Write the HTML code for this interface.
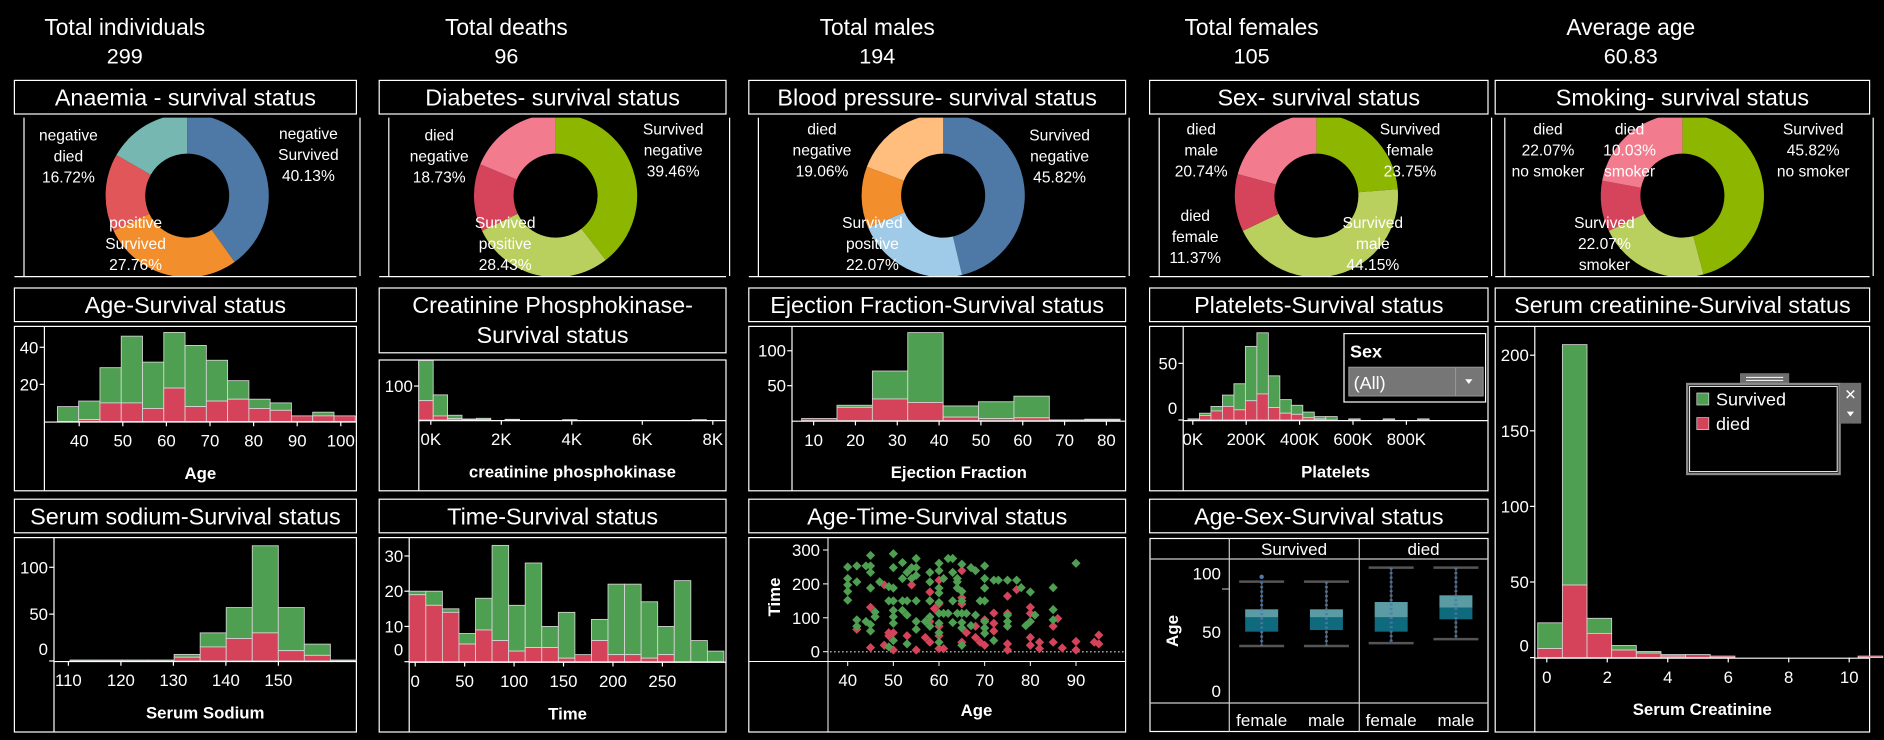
<!DOCTYPE html>
<html><head><meta charset="utf-8"><title>Heart failure dashboard</title>
<style>
html,body{margin:0;padding:0;background:#000;}
svg{display:block;}
text{font-family:"Liberation Sans",sans-serif;fill:#fff;}
</style></head>
<body>
<svg id="dash" xmlns="http://www.w3.org/2000/svg" width="1884" height="740" viewBox="0 0 1570 616.667" preserveAspectRatio="none">
<rect x="0" y="0" width="1570" height="616.667" fill="#000"/>
<defs id="defs"></defs>
</svg>
<script>
// ---------- DATA ----------
const kpiLabels=['Total individuals','Total deaths','Total males','Total females','Average age'];
const kpiValues=['299','96','194','105','60.83'];

const anaemiaValues=[40.13,27.76,15.39,16.72];
const diabetesValues=[39.46,28.43,13.38,18.73];
const bpValues=[45.82,22.07,12.05,19.06];
const sexValues=[23.75,44.15,11.37,20.74];
const smokingValues=[45.82,22.07,10.03,22.07];

const ageTotals=[8,11,29,46,32,48,41,33,22,12,10,3,5,3];
const ageDied=[0,1,10,10,7,18,8,11,12,7,6,3,3,3];
const ageXTicks=[40,50,60,70,80,90,100];
const ageYTicks=[20,40];

const cpkTotals=[175,74,14,3,5,0,2,0,0,0,1,0,0,0,0,0,0,0,0,1];
const cpkDied=[57,12,4,1,1,0,1,0,0,0,1,0,0,0,0,0,0,0,0,0];
const cpkXTicks=[0,2000,4000,6000,8000];
const cpkYTicks=[100];

const efTotals=[3,22,71,126,21,27,35,1,2];
const efDied=[3,19,31,26,5,3,4,0,1];
const efXTicks=[10,20,30,40,50,60,70,80];
const efYTicks=[50,100];

const pltTotals=[1,6,12,22,32,65,77,39,18,13,7,3,3,0,1,0,0,1,0,0,1];
const pltDied=[0,4,8,12,9,17,23,11,6,5,2,1,0,0,0,0,0,0,0,0,0];
const pltXTicks=[0,200000,400000,600000,800000];
const pltYTicks=[0,50];

const scTotals=[23,207,26,8,4,2,2,1,0,0,0,0,0,1];
const scDied=[6,48,16,5,3,1,2,1,0,0,0,0,0,1];
const scXTicks=[0,2,4,6,8,10];
const scYTicks=[0,50,100,150,200];

const naTotals=[1,1,1,1,7,30,57,123,57,18,1];
const naDied=[0,0,0,0,4,15,24,30,11,6,0];
const naXTicks=[110,120,130,140,150];
const naYTicks=[0,50,100];

const timeTotals=[20,20,15,8,18,33,16,28,10,14,2,12,22,22,17,10,23,6,3];
const timeDied=[19,16,14,5,9,6,3,4,4,1,2,6,2,2,1,2,0,0,0];
const timeXTicks=[0,50,100,150,200,250];
const timeYTicks=[0,10,20,30];

const greenAge=[40,42,45,44,45,45,40,40,40,40,42,45,47,50,50,52,55,54,55,53,52,54,55,58,58,60,60,62,63,65,67,68,70,70,70,72,73,75,77,78,80,85,90,64,64,64,65,61,60,60,63,49,50,49,50,52,53,55,58,60,63,65,69,70,50,50,52,53,46,46,44,42,42,45,45,50,50,49,53,55,55,57,58,58,60,61,62,64,65,66,60,63,65,65,67,68,70,70,70,72,75,75,75,79,80,81,85,85,60,65,60];
const greenTime=[250,253,284,253,253,234,216,197,178,152,206,188,206,289,248,263,275,248,248,234,216,216,225,234,206,261,239,275,275,258,248,239,253,216,188,211,211,211,211,189,176,189,261,216,188,206,178,216,188,173,234,192,188,150,150,150,150,150,150,145,150,150,150,150,122,103,122,108,117,103,89,75,94,80,61,84,33,14,23,89,66,89,75,103,113,113,113,113,113,113,84,86,86,70,77,108,89,70,54,33,108,89,75,77,89,108,124,94,28,19,56];
const redAge=[48,54,58,60,65,75,77,58,59,60,65,45,46,42,49,50,49,53,45,48,50,55,57,58,60,60,61,65,66,68,69,70,68,70,72,72,72,75,75,75,80,80,80,80,82,82,85,85,86,87,90,90,94,95,95,58,60,65];
const redTime=[197,197,176,211,239,164,183,150,127,141,159,131,103,66,56,56,47,47,12,19,5,5,42,28,47,9,9,28,56,42,28,19,75,94,114,84,61,23,5,113,131,113,42,19,28,9,28,75,98,11,30,5,28,49,23,89,75,141];
const scatterXTicks=[40,50,60,70,80,90];
const scatterYTicks=[0,100,200,300];

const boxSex=['female','male','female','male'];
const boxStatus=['Survived','died'];
const boxLo=[38.2,38.2,40.7,44.1];
const boxQ1=[50.4,51.8,50.4,60.9];
const boxMed=[62.6,62.6,62.6,70.8];
const boxQ3=[69.4,69.4,75.6,81.3];
const boxHi=[92.9,92.9,104.8,104.8];
const boxOut=[97,null,null,null];
const boxYTicks=[0,50,100];

// ---------- HELPERS ----------
const NS='http://www.w3.org/2000/svg';
const svg=document.getElementById('dash');
const GREEN='#4f9f52', RED='#d4435a', STROKE='#d6d6d6';
function mk(parent,tag,attrs,name,inter){
  const el=document.createElementNS(NS,tag);
  for(const k in attrs) el.setAttribute(k,attrs[k]);
  
  
  parent.appendChild(el);
  return el;
}
function txt(parent,x,y,s,size,name,opts){
  opts=opts||{};
  const a={x:x,y:y,'font-size':size,'text-anchor':opts.anchor||'middle'};
  if(opts.bold) a['font-weight']='bold';
  if(opts.transform) a.transform=opts.transform;
  if(opts.fill) a.fill=opts.fill;
  const t=mk(parent,'text',a,name,false);
  t.textContent=s;
  return t;
}
function lin(d0,d1,r0,r1){return v=>r0+(v-d0)*(r1-r0)/(d1-d0);}
function line(p,x1,y1,x2,y2,name,stroke,w){return mk(p,'line',{x1:x1,y1:y1,x2:x2,y2:y2,stroke:stroke||'#fff','stroke-width':w||1},name,false);}
function rectO(p,x0,y0,x1,y1,name){return mk(p,'rect',{x:x0,y:y0,width:x1-x0,height:y1-y0,fill:'none',stroke:'#fff','stroke-width':1},name,false);}

const cols=[[12,297],[316,605],[624,938],[958,1240],[1246,1558]];

// ---------- KPIs ----------
const kpiX=[104,422,731,1043,1359];
kpiLabels.forEach((l,i)=>{
  const g=mk(svg,'g',{},'kpi-'+l.toLowerCase().replace(/ /g,'-'),false);
  txt(g,kpiX[i],29,l,19,'kpi-label');
  txt(g,kpiX[i],53,kpiValues[i],18,'kpi-value');
});

// ---------- TITLE BOXES ----------
function titleBox(x0,x1,y0,y1,lines,name){
  const g=mk(svg,'g',{},name,false);
  rectO(g,x0,y0,x1,y1,'title-frame');
  const cx=(x0+x1)/2;
  if(lines.length===1) txt(g,cx,y0+21,lines[0],19.5,'title-text');
  else {txt(g,cx,y0+21,lines[0],19.5,'title-text');txt(g,cx,y0+46,lines[1],19.5,'title-text');}
}
titleBox(cols[0][0],cols[0][1],67,95,['Anaemia - survival status'],'anaemia-title');
titleBox(cols[1][0],cols[1][1],67,95,['Diabetes- survival status'],'diabetes-title');
titleBox(cols[2][0],cols[2][1],67,95,['Blood pressure- survival status'],'blood-pressure-title');
titleBox(cols[3][0],cols[3][1],67,95,['Sex- survival status'],'sex-title');
titleBox(cols[4][0],cols[4][1],67,95,['Smoking- survival status'],'smoking-title');
titleBox(cols[0][0],cols[0][1],240,268,['Age-Survival status'],'age-title');
titleBox(cols[1][0],cols[1][1],240,294,['Creatinine Phosphokinase-','Survival status'],'cpk-title');
titleBox(cols[2][0],cols[2][1],240,268,['Ejection Fraction-Survival status'],'ef-title');
titleBox(cols[3][0],cols[3][1],240,268,['Platelets-Survival status'],'platelets-title');
titleBox(cols[4][0],cols[4][1],240,268,['Serum creatinine-Survival status'],'serum-creatinine-title');
titleBox(cols[0][0],cols[0][1],416,444,['Serum sodium-Survival status'],'serum-sodium-title');
titleBox(cols[1][0],cols[1][1],416,444,['Time-Survival status'],'time-title');
titleBox(cols[2][0],cols[2][1],416,444,['Age-Time-Survival status'],'age-time-title');
titleBox(cols[3][0],cols[3][1],416,444,['Age-Sex-Survival status'],'age-sex-title');

// ---------- DONUTS ----------
const defs=document.getElementById('defs');
function arcPath(cx,cy,r0,r1,a0,a1){
  const p=(r,a)=>[cx+r*Math.sin(a),cy-r*Math.cos(a)];
  const large=(a1-a0)>Math.PI?1:0;
  const [x1,y1]=p(r1,a0),[x2,y2]=p(r1,a1),[x3,y3]=p(r0,a1),[x4,y4]=p(r0,a0);
  return `M${x1},${y1}A${r1},${r1} 0 ${large} 1 ${x2},${y2}L${x3},${y3}A${r0},${r0} 0 ${large} 0 ${x4},${y4}Z`;
}
function donut(ci,cx,values,colors,labels,name){
  const [x0,x1]=cols[ci];
  const g=mk(svg,'g',{},name,false);
  const cp=mk(defs,'clipPath',{id:'clip'+ci},'clip',false);
  mk(cp,'rect',{x:x0,y:98,width:x1-x0,height:132},'clip-rect',false);
  line(g,x0+8,98,x0+8,230,'panel-left-border');
  line(g,x1+3,98,x1+3,230,'panel-right-border');
  line(g,x0,230.5,x1,230.5,'panel-bottom-border');
  const dg=mk(g,'g',{'clip-path':'url(#clip'+ci+')'},'donut',false);
  const tot=values.reduce((a,b)=>a+b,0);
  let a=0;
  values.forEach((v,i)=>{
    const a1=a+v/tot*2*Math.PI;
    mk(dg,'path',{d:arcPath(cx,163,35,68,a,a1),fill:colors[i]},'donut-slice',true);
    a=a1;
  });
  labels.forEach(l=>{
    l.t.forEach((s,j)=>txt(g,l.x,l.y+j*17.5,s,13,'slice-label',{anchor:l.a||'middle'}));
  });
}
donut(0,156,anaemiaValues,['#4e79a7','#f28e2b','#e15759','#76b7b2'],[
  {x:257,y:116,t:['negative','Survived','40.13%']},
  {x:57,y:117,t:['negative','died','16.72%']},
  {x:113,y:190,t:['positive','Survived','27.76%']}],'anaemia-donut');
donut(1,463,diabetesValues,['#8db600','#b9cf5e','#d5445b','#f27b8e'],[
  {x:561,y:112,t:['Survived','negative','39.46%']},
  {x:366,y:117,t:['died','negative','18.73%']},
  {x:421,y:190,t:['Survived','positive','28.43%']}],'diabetes-donut');
donut(2,786,bpValues,['#4e79a7','#a0cbe8','#f28e2b','#ffbe7d'],[
  {x:685,y:112,t:['died','negative','19.06%']},
  {x:883,y:117,t:['Survived','negative','45.82%']},
  {x:727,y:190,t:['Survived','positive','22.07%']}],'blood-pressure-donut');
donut(3,1097,sexValues,['#8db600','#b9cf5e','#d5445b','#f27b8e'],[
  {x:1001,y:112,t:['died','male','20.74%']},
  {x:1175,y:112,t:['Survived','female','23.75%']},
  {x:996,y:184,t:['died','female','11.37%']},
  {x:1144,y:190,t:['Survived','male','44.15%']}],'sex-donut');
donut(4,1402,smokingValues,['#8db600','#b9cf5e','#d5445b','#f27b8e'],[
  {x:1290,y:112,t:['died','22.07%','no smoker']},
  {x:1358,y:112,t:['died','10.03%','smoker']},
  {x:1511,y:112,t:['Survived','45.82%','no smoker']},
  {x:1337,y:190,t:['Survived','22.07%','smoker']}],'smoking-donut');

// ---------- HISTOGRAMS ----------
function histChart(o){
  const g=mk(svg,'g',{},o.name,false);
  rectO(g,o.x0,o.y0,o.x1,o.y1,'chart-frame');
  line(g,o.ax,o.y0,o.ax,o.y1,'y-axis-line');
  const xs=o.xs, ys=o.ys, base=ys(0);
  const bars=mk(g,'g',{},'bars',false);
  o.totals.forEach((t,i)=>{
    if(t<=0) return;
    const xl=xs(o.start+i*o.width), xr=xs(o.start+(i+1)*o.width);
    const d=o.died[i];
    if(t>d) mk(bars,'rect',{x:xl,y:ys(t),width:xr-xl,height:ys(d)-ys(t),fill:GREEN,stroke:STROKE,'stroke-width':0.7},'bar-survived-'+i,true);
    if(d>0) mk(bars,'rect',{x:xl,y:ys(d),width:xr-xl,height:base-ys(d),fill:RED,stroke:STROKE,'stroke-width':0.7},'bar-died-'+i,true);
  });
  line(g,o.ax,base+0.5,o.x1,base+0.5,'x-axis-line');
  const xg=mk(g,'g',{},'x-axis',false);
  o.xticks.forEach(v=>{
    const x=xs(v);
    line(xg,x,base,x,base+4,'x-tick');
    txt(xg,x,base+21,o.fmt?o.fmt(v):String(v),14,'x-tick-label');
  });
  txt(xg,(o.ax+o.x1)/2,base+48,o.title,14,'x-axis-title',{bold:true});
  const yg=mk(g,'g',{},'y-axis',false);
  o.yticks.forEach(v=>{
    const y=ys(v);
    line(yg,o.ax-4,y,o.ax,y,'y-tick');
    txt(yg,o.ax-5,v===0?y-5:y+5,String(v),14,'y-tick-label',{anchor:'end'});
  });
  return g;
}
histChart({name:'age-histogram',x0:12,x1:297,y0:272,y1:409,ax:37,xs:lin(40,100,66,284),ys:lin(0,40,351.2,289.4),start:35.0,width:4.88,totals:ageTotals,died:ageDied,xticks:ageXTicks,yticks:ageYTicks,title:'Age'});
histChart({name:'cpk-histogram',x0:316,x1:605,y0:300,y1:409,ax:349,xs:lin(0,8000,359,594),ys:lin(0,100,350,321.7),start:-340,width:408,totals:cpkTotals,died:cpkDied,xticks:cpkXTicks,yticks:cpkYTicks,title:'creatinine phosphokinase',fmt:v=>(v/1000)+'K'});
histChart({name:'ejection-fraction-histogram',x0:624,x1:938,y0:272,y1:409,ax:660,xs:lin(10,80,678,922),ys:lin(0,100,350.5,292.3),start:7.13,width:8.46,totals:efTotals,died:efDied,xticks:efXTicks,yticks:efYTicks,title:'Ejection Fraction'});
histChart({name:'platelets-histogram',x0:958,x1:1240,y0:272,y1:409,ax:986,xs:lin(0,800000,994,1172),ys:lin(0,50,350,302.8),start:-18000,width:43000,totals:pltTotals,died:pltDied,xticks:pltXTicks,yticks:pltYTicks,title:'Platelets',fmt:v=>(v/1000)+'K'});
histChart({name:'serum-creatinine-histogram',x0:1246,x1:1558,y0:272,y1:610,ax:1279,xs:lin(0,10,1289,1541),ys:lin(0,200,548,296),start:-0.3,width:0.815,totals:scTotals,died:scDied,xticks:scXTicks,yticks:scYTicks,title:'Serum Creatinine'});
histChart({name:'serum-sodium-histogram',x0:12,x1:297,y0:448,y1:610,ax:45,xs:lin(110,150,57,232),ys:lin(0,100,550.8,472.75),start:110.3,width:4.96,totals:naTotals,died:naDied,xticks:naXTicks,yticks:naYTicks,title:'Serum Sodium'});
histChart({name:'time-histogram',x0:316,x1:605,y0:448,y1:610,ax:341,xs:lin(0,250,346,552),ys:lin(0,30,551.4,463.3),start:-6,width:16.75,totals:timeTotals,died:timeDied,xticks:timeXTicks,yticks:timeYTicks,title:'Time'});

// ---------- SEX FILTER ----------
(function(){
  const g=mk(svg,'g',{},'sex-filter',true);
  mk(g,'rect',{x:1120,y:278,width:118,height:57,fill:'#000',stroke:'#fff','stroke-width':1},'filter-frame',false);
  txt(g,1125,298,'Sex',15,'filter-label',{anchor:'start',bold:true});
  mk(g,'rect',{x:1124,y:306,width:112,height:24,fill:'#767676',stroke:'#9a9a9a','stroke-width':0.8},'filter-dropdown',true);
  line(g,1213,306,1213,330,'dropdown-divider','#9a9a9a',0.8);
  txt(g,1128,324,'(All)',15,'dropdown-value',{anchor:'start'});
  mk(g,'path',{d:'M1221,316 L1227,316 L1224,320 Z',fill:'#fff'},'dropdown-arrow',true);
})();

// ---------- LEGEND ----------
(function(){
  const g=mk(svg,'g',{},'legend',true);
  mk(g,'rect',{x:1450,y:311,width:41,height:10,fill:'#6e6e6e'},'legend-handle',true);
  line(g,1455,314.5,1486,314.5,'handle-line','#fff',0.8);
  line(g,1455,317,1486,317,'handle-line','#fff',0.8);
  mk(g,'rect',{x:1406,y:320,width:127,height:75,fill:'#000',stroke:'#8a8a8a','stroke-width':2},'legend-frame',false);
  mk(g,'rect',{x:1408,y:322,width:123,height:71,fill:'none',stroke:'#fff','stroke-width':0.8},'legend-inner-frame',false);
  mk(g,'rect',{x:1533,y:319,width:18,height:34,fill:'#6e6e6e'},'legend-sidebar',false);
  txt(g,1542,333,'✕',12,'legend-close-button',{});
  mk(g,'path',{d:'M1539,343 L1545,343 L1542,347 Z',fill:'#fff'},'legend-menu-button',true);
  mk(g,'rect',{x:1414,y:327.5,width:10,height:10,fill:GREEN,stroke:STROKE,'stroke-width':0.6},'legend-swatch-survived',false);
  txt(g,1430,338,'Survived',15,'legend-entry-survived',{anchor:'start'});
  mk(g,'rect',{x:1414,y:348,width:10,height:10,fill:RED,stroke:STROKE,'stroke-width':0.6},'legend-swatch-died',false);
  txt(g,1430,358.5,'died',15,'legend-entry-died',{anchor:'start'});
})();

// ---------- SCATTER (real px coords) ----------
(function(){
  const outer=mk(svg,'g',{},'age-time-scatter',false);
  rectO(outer,624,448,938,610,'chart-frame');
  const g=mk(outer,'g',{transform:'scale(0.83333)'},'scatter-plot',false);
  const xs=lin(40,90,847.7,1076), ys=lin(0,300,651.7,550);
  line(g,828,538,828,732,'y-axis-line');
  line(g,749,661.5,1125,661.5,'x-axis-line');
  for(let x=830;x<1124;x+=4) mk(g,'rect',{x:x,y:651.2,width:1.6,height:1.2,fill:'#ccc'},'zero-line-dot',false);
  const pts=mk(g,'g',{},'points',false);
  const dia=(a,t,c,n)=>{const x=xs(a),y=ys(t),h=4.6;
    mk(pts,'path',{d:`M${x},${y-h}L${x+h},${y}L${x},${y+h}L${x-h},${y}Z`,fill:c},n,true);};
  for(let i=0;i<Math.min(redAge.length,redTime.length);i++) dia(redAge[i],redTime[i],RED,'point-died');
  for(let i=0;i<Math.min(greenAge.length,greenTime.length);i++) dia(greenAge[i],greenTime[i],GREEN,'point-survived');
  scatterXTicks.forEach(v=>{const x=xs(v);line(g,x,661.5,x,666,'x-tick');txt(g,x,686,String(v),16.8,'x-tick-label');});
  scatterYTicks.forEach(v=>{const y=ys(v);line(g,823,y,828,y,'y-tick');txt(g,820,y+6,String(v),16.8,'y-tick-label',{anchor:'end'});});
  txt(g,(828+1125)/2,716,'Age',16.8,'x-axis-title',{bold:true});
  txt(g,0,0,'Time',16.8,'y-axis-title',{bold:true,transform:'translate(780,597) rotate(-90)'});
})();

// ---------- BOX PLOT (real px coords) ----------
(function(){
  const outer=mk(svg,'g',{},'age-sex-boxplot',false);
  const g=mk(outer,'g',{transform:'scale(0.83333)'},'boxplot',false);
  const ys=lin(0,100,691,573.3);
  mk(g,'rect',{x:1150,y:538.5,width:338,height:193,fill:'none',stroke:'#fff','stroke-width':1.2},'chart-frame',false);
  line(g,1150,559,1488,559,'header-divider','#ccc',1.2);
  line(g,1150,703,1488,703,'plot-bottom','#ccc',1.2);
  line(g,1229.3,538.5,1229.3,731.7,'column-divider','#ccc',1.2);
  line(g,1359.3,538.5,1359.3,731.7,'column-divider','#ccc',1.2);
  const colL=1229.3, colW=129.5;
  boxStatus.forEach((s,i)=>txt(g,colL+colW*(i+0.5),555,s,17,'status-header'));
  const bw=33;
  boxSex.forEach((sx,i)=>{
    const cx=colL+colW*(Math.floor(i/2))+colW*(0.25+0.5*(i%2));
    const bg=mk(g,'g',{},'box-'+boxStatus[Math.floor(i/2)].toLowerCase()+'-'+sx,true);
    line(bg,cx,ys(boxHi[i]),cx,ys(boxLo[i]),'whisker','#555',1.5);
    mk(bg,'rect',{x:cx-bw/2,y:ys(boxMed[i]),width:bw,height:ys(boxQ1[i])-ys(boxMed[i]),fill:'#0e6a7c'},'box-lower',true);
    mk(bg,'rect',{x:cx-bw/2,y:ys(boxQ3[i]),width:bw,height:ys(boxMed[i])-ys(boxQ3[i]),fill:'#5a9ba4'},'box-upper',true);
    line(bg,cx-bw/2-6,ys(boxHi[i]),cx+bw/2+6,ys(boxHi[i]),'whisker-cap','#555',2.5);
    line(bg,cx-bw/2-6,ys(boxLo[i]),cx+bw/2+6,ys(boxLo[i]),'whisker-cap','#555',2.5);
    mk(bg,'line',{x1:cx,y1:ys(boxHi[i]),x2:cx,y2:ys(boxLo[i]),stroke:'#4e79a7','stroke-width':3,'stroke-dasharray':'2 2.5','opacity':0.85},'age-dots',false);
    if(boxOut[i]!==null) mk(bg,'circle',{cx:cx,cy:ys(boxOut[i]),r:2.2,fill:'#4e79a7'},'outlier',false);
    txt(g,cx,726,sx,17,'sex-label');
  });
  boxYTicks.forEach(v=>txt(g,1221,ys(v)+6,String(v),17,'y-tick-label',{anchor:'end'}));
  line(g,1222,589,1229,589,'y-tick','#ccc',1);
  txt(g,0,0,'Age',17,'y-axis-title',{bold:true,transform:'translate(1178,631) rotate(-90)'});
})();
</script>
</body></html>
